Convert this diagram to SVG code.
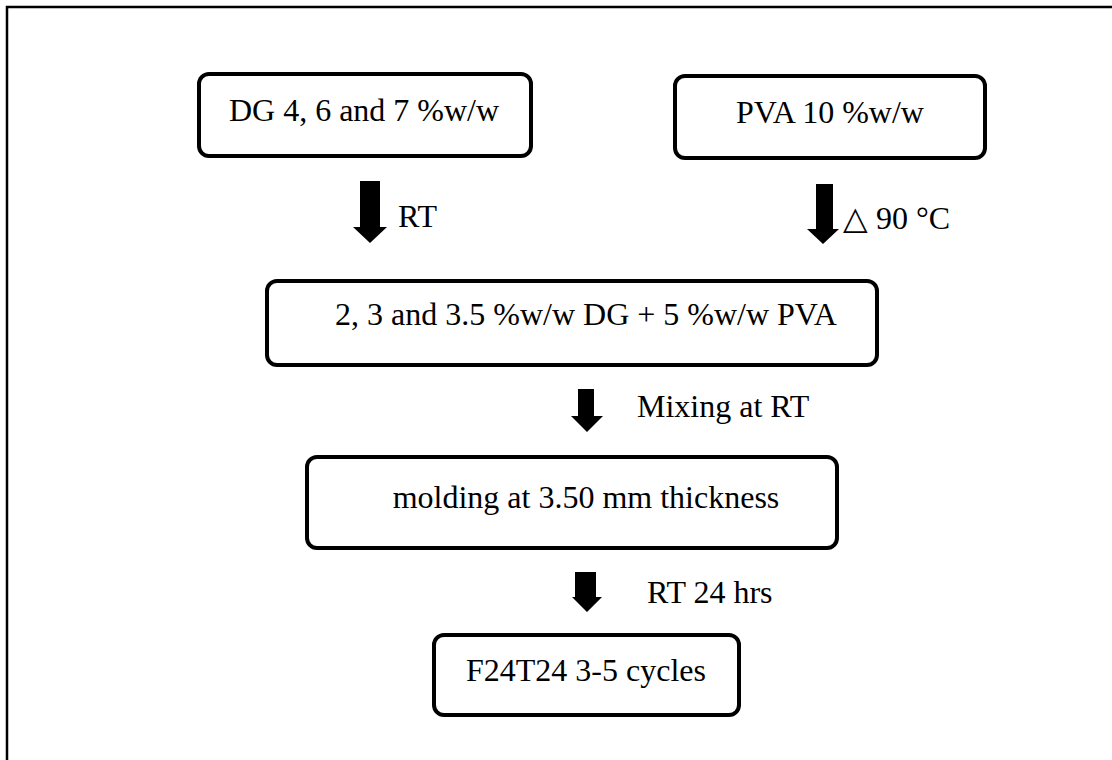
<svg xmlns="http://www.w3.org/2000/svg" width="1112" height="760" viewBox="0 0 1112 760">
<style>
.box{fill:#fff;stroke:#000;stroke-width:4}
.t{font-family:"Liberation Serif","Times New Roman",serif;font-size:32px;fill:#000}
.c{text-anchor:middle}
.arr{fill:#000;stroke:none}
</style>
<rect x="0" y="0" width="1112" height="760" fill="#fff"/>
<path d="M7,760 V7 H1112" fill="none" stroke="#000" stroke-width="2.5"/>
<g id="n1">
<rect class="box" x="199" y="74" width="332" height="82" rx="10"/>
<text class="t c" x="364" y="121">DG 4, 6 and 7 %w/w</text>
</g>
<g id="n2">
<rect class="box" x="675" y="76" width="310" height="82" rx="10"/>
<text class="t c" x="830" y="123">PVA 10 %w/w</text>
</g>
<g id="n3">
<rect class="box" x="267" y="281" width="610" height="84" rx="10"/>
<text class="t c" x="586" y="325">2, 3 and 3.5 %w/w DG + 5 %w/w PVA</text>
</g>
<g id="n4">
<rect class="box" x="307" y="457" width="530" height="91" rx="10"/>
<text class="t c" x="586" y="508">molding at 3.50 mm thickness</text>
</g>
<g id="n5">
<rect class="box" x="434" y="635" width="305" height="80" rx="10"/>
<text class="t c" x="586" y="681">F24T24 3-5 cycles</text>
</g>
<g id="connectors">
<polygon class="arr" points="360,181 380,181 380,227 387,227 370,243 353,227 360,227"/>
<text class="t" x="398" y="227">RT</text>
<polygon class="arr" points="816,184 833,184 833,229 839,229 823,244 807,229 816,229"/>
<text class="t" x="843" y="229">△ 90 °C</text>
<polygon class="arr" points="578,389 594,389 594,416 603,416 587,432 571,416 578,416"/>
<text class="t" x="637" y="417">Mixing at RT</text>
<polygon class="arr" points="575,572 596,572 596,597 602,597 587,612 572,597 575,597"/>
<text class="t" x="647" y="603">RT 24 hrs</text>
</g>
</svg>
